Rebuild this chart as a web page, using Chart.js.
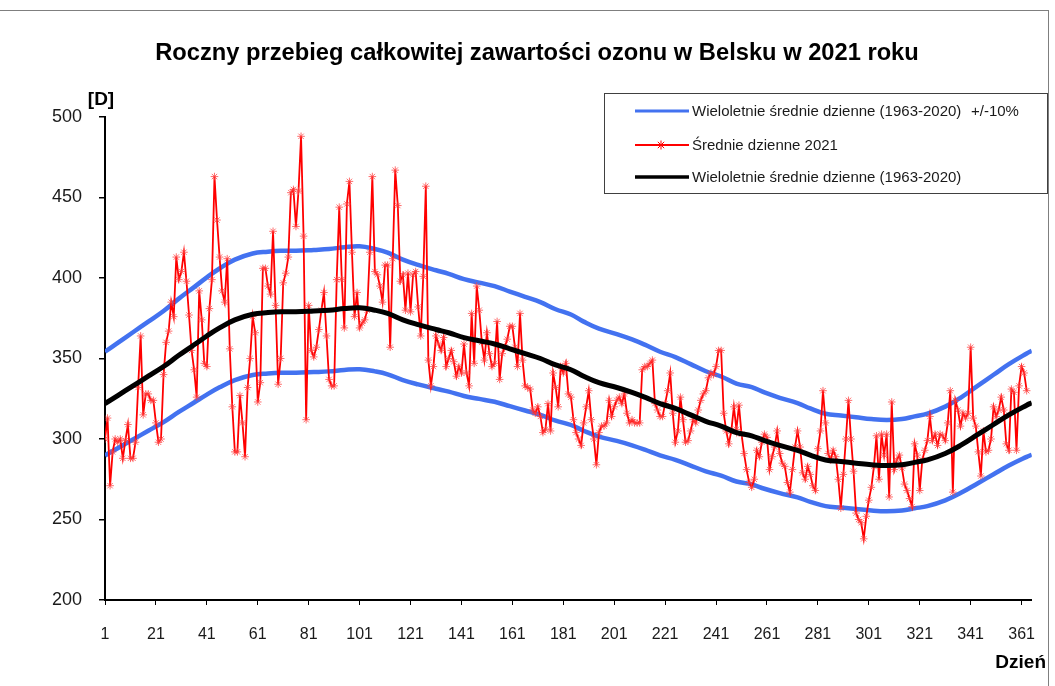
<!DOCTYPE html>
<html>
<head>
<meta charset="utf-8">
<title>Ozon Belsk 2021</title>
<script src="https://cdn.jsdelivr.net/npm/chart.js@4.4.0/dist/chart.umd.min.js"></script>
<style>
    html, body { margin: 0; padding: 0; background: #fff; }
    #wrap { width: 1055px; height: 686px; }
</style>
</head>
<body>
<div id="wrap"><canvas id="chart" width="1055" height="686"></canvas></div>
<script>
(function () {

    'use strict';

    // dzienne wartosci 2021, od dnia 1
    var ozone2021 = [
        300, 313, 271, 292, 300, 298, 300, 288, 299, 309,
        288, 288, 298, 332, 364, 315, 328, 328, 324, 324,
        310, 298, 300, 340, 360, 367, 385, 376, 413, 399,
        404, 416, 398, 377, 355, 343, 326, 392, 374, 347,
        345, 381, 399, 463, 436, 413, 392, 385, 412, 356,
        320, 292, 292, 327, 310, 289, 332, 350, 376, 366,
        323, 335, 406, 406, 395, 390, 429, 383, 334, 350,
        397, 403, 413, 453, 455, 432, 454, 488, 426, 312,
        383, 355, 351, 357, 368, 380, 391, 364, 337, 333,
        333, 399, 444, 399, 369, 446, 460, 416, 376, 391,
        369, 372, 374, 380, 416, 463, 404, 402, 395, 385,
        408, 408, 357, 412, 467, 445, 398, 402, 380, 403,
        379, 402, 404, 382, 364, 401, 457, 349, 333, 345,
        364, 359, 355, 363, 345, 350, 355, 348, 339, 345,
        341, 359, 341, 333, 378, 347, 395, 380, 360, 349,
        366, 353, 345, 347, 373, 337, 353, 357, 362, 370,
        370, 357, 345, 378, 349, 333, 332, 331, 318, 316,
        320, 314, 304, 306, 322, 305, 341, 332, 320, 345,
        341, 347, 328, 326, 312, 304, 300, 296, 310, 320,
        330, 312, 300, 284, 304, 308, 308, 310, 324, 314,
        320, 324, 326, 322, 328, 316, 310, 312, 310, 310,
        310, 343, 345, 345, 347, 349, 322, 318, 314, 314,
        322, 330, 341, 316, 298, 305, 326, 312, 298, 299,
        305, 312, 310, 318, 324, 328, 330, 338, 341, 340,
        345, 355, 355, 316, 305, 297, 305, 320, 306, 321,
        303, 291, 281, 273, 270, 275, 293, 289, 298, 303,
        301, 281, 289, 295, 305, 291, 285, 283, 273, 267,
        281, 295, 305, 295, 279, 275, 283, 278, 271, 268,
        294, 305, 330, 310, 291, 287, 293, 289, 275, 257,
        278, 300, 324, 300, 280, 254, 250, 248, 238, 252,
        262, 270, 283, 302, 275, 303, 290, 303, 264, 323,
        281, 287, 290, 282, 272, 268, 263, 258, 297, 290,
        268, 287, 293, 299, 314, 299, 303, 296, 303, 302,
        299, 310, 330, 267, 324, 318, 308, 316, 313, 316,
        357, 313, 308, 292, 277, 305, 292, 293, 300, 320,
        314, 318, 326, 318, 297, 293, 331, 329, 293, 333,
        345, 341, 330
    ];

    // wieloletnie srednie (1963-2020), odczytane co kilka dni
    var meanDays = [1, 6, 12, 18, 24, 30, 36, 41, 46, 52, 59, 65, 70, 76, 83, 89, 95, 101,
        107, 112, 118, 124, 131, 136, 142, 148, 154, 160, 166, 172, 178, 184, 189, 195,
        202, 208, 213, 219, 225, 231, 237, 243, 249, 255, 260, 266, 273, 278, 284, 290,
        296, 302, 308, 314, 319, 324, 331, 337, 344, 350, 356, 363, 365];
    var meanOzone = [322, 327, 333, 339, 345, 352, 358.5, 364, 369, 374, 377.5, 378.5, 379, 379,
        379.5, 380, 381, 381.5, 380, 378, 374, 371, 368, 366, 363, 361, 359, 356, 353, 350,
        346, 343, 339, 335, 332, 329, 326, 322, 319, 315, 311, 308, 304, 302, 299, 296, 293,
        290, 287, 286, 285, 284, 283.5, 284, 285.5, 287, 291, 296, 303, 309, 315, 321, 322.5];

    var xTickLabels = [1, 21, 41, 61, 81, 101, 121, 141, 161, 181, 201, 221, 241, 261, 281, 301, 321, 341, 361];
    var yTickLabels = [200, 250, 300, 350, 400, 450, 500];

    var titleText = 'Roczny przebieg całkowitej zawartości ozonu w Belsku w 2021 roku';
    var seriesNames = [
        'Wieloletnie średnie dzienne (1963-2020)',
        'Średnie dzienne 2021',
        'Wieloletnie średnie dzienne (1963-2020)'
    ];
    var bandNote = '+/-10%';

    var FONT = '"Liberation Sans", Arial, sans-serif';
    var BLUE = '#4372f0';
    var RED = '#ff0000';

    var redPts = ozone2021.map(function (v, i) { return { x: i + 1, y: v }; });
    var meanPts = meanDays.map(function (d, i) { return { x: d, y: meanOzone[i] }; });
    var upperPts = meanDays.map(function (d, i) { return { x: d, y: meanOzone[i] * 1.1 }; });
    var lowerPts = meanDays.map(function (d, i) { return { x: d, y: meanOzone[i] * 0.9 }; });

    function drawStar(c, x, y, r) {
        c.beginPath();
        c.moveTo(x - r, y); c.lineTo(x + r, y);
        c.moveTo(x, y - r); c.lineTo(x, y + r);
        var d = r * 0.707;
        c.moveTo(x - d, y - d); c.lineTo(x + d, y + d);
        c.moveTo(x - d, y + d); c.lineTo(x + d, y - d);
        c.stroke();
    }

    var decor = {
        id: 'decor',
        afterDraw: function (chart) {
            var c = chart.ctx;
            c.save();

            // ramka wykresu
            c.strokeStyle = '#7f7f7f';
            c.lineWidth = 1;
            c.strokeRect(-1.5, 10.5, 1050, 700);

            c.fillStyle = '#000';
            c.textBaseline = 'middle';
            c.textAlign = 'center';
            c.font = 'bold 23.7px ' + FONT;
            c.fillText(titleText, 537, 53);

            c.font = 'bold 19px ' + FONT;
            c.fillText('[D]', 101, 100);
            c.textAlign = 'right';
            c.fillText('Dzień', 1046, 663);

            // legenda
            var lx = 604, ly = 93, lw = 443, lh = 100;
            c.fillStyle = '#fff';
            c.fillRect(lx, ly, lw, lh);
            c.strokeStyle = '#404040';
            c.lineWidth = 1;
            c.strokeRect(lx + 0.5, ly + 0.5, lw, lh);

            var rows = [111, 145, 177];
            var colors = [BLUE, RED, '#000'];
            var widths = [3, 2, 3.5];
            for (var i = 0; i < 3; i++) {
                c.strokeStyle = colors[i];
                c.lineWidth = widths[i];
                c.beginPath();
                c.moveTo(635, rows[i]);
                c.lineTo(689, rows[i]);
                c.stroke();
            }
            c.strokeStyle = RED;
            c.lineWidth = 1;
            drawStar(c, 661, rows[1], 4.5);

            c.fillStyle = '#1a1a1a';
            c.textAlign = 'left';
            c.font = '15px ' + FONT;
            for (var j = 0; j < 3; j++) {
                c.fillText(seriesNames[j], 692, rows[j] + 1);
            }
            c.fillText(bandNote, 971, rows[0] + 1);

            c.restore();
        }
    };

    var ctx = document.getElementById('chart').getContext('2d');

    var myChart = new Chart(ctx, {
        type: 'line',
        data: {
            datasets: [{
                label: seriesNames[2],
                data: meanPts,
                borderColor: '#000',
                borderWidth: 5,
                pointRadius: 0,
                tension: 0.4
            }, {
                label: seriesNames[1],
                data: redPts,
                borderColor: RED,
                borderWidth: 1.8,
                pointStyle: 'star',
                pointRadius: 3.8,
                pointBorderColor: 'rgba(255, 60, 60, 0.75)',
                pointBorderWidth: 1,
                tension: 0
            }, {
                label: seriesNames[0],
                data: upperPts,
                borderColor: BLUE,
                borderWidth: 4.5,
                pointRadius: 0,
                tension: 0.4
            }, {
                label: seriesNames[0] + ' -10%',
                data: lowerPts,
                borderColor: BLUE,
                borderWidth: 4.5,
                pointRadius: 0,
                tension: 0.4
            }]
        },
        options: {
            responsive: false,
            animation: false,
            layout: { padding: { top: 117, right: 6, bottom: 0, left: 0 } },
            plugins: {
                legend: { display: false },
                title: { display: false },
                tooltip: { enabled: false }
            },
            scales: {
                x: {
                    type: 'linear',
                    min: 1,
                    max: 365,
                    afterBuildTicks: function (s) {
                        s.ticks = xTickLabels.map(function (v) { return { value: v }; });
                    },
                    afterFit: function (s) { s.height = 86; },
                    grid: { drawOnChartArea: false, drawTicks: true, tickLength: 5, color: '#000', lineWidth: 1 },
                    border: { color: '#000', width: 2 },
                    ticks: {
                        autoSkip: false,
                        maxRotation: 0,
                        padding: 20,
                        color: '#1a1a1a',
                        font: { family: FONT, size: 16 }
                    }
                },
                y: {
                    min: yTickLabels[0],
                    max: yTickLabels[yTickLabels.length - 1],
                    afterBuildTicks: function (s) {
                        s.ticks = yTickLabels.map(function (v) { return { value: v }; });
                    },
                    afterFit: function (s) { s.width = 105; },
                    grid: { drawOnChartArea: false, drawTicks: true, tickLength: 6, color: '#000', lineWidth: 1.5 },
                    border: { color: '#000', width: 2 },
                    ticks: {
                        padding: 17,
                        color: '#1a1a1a',
                        font: { family: FONT, size: 18 }
                    }
                }
            }
        },
        plugins: [decor]
    });

})();
</script>
</body>
</html>
